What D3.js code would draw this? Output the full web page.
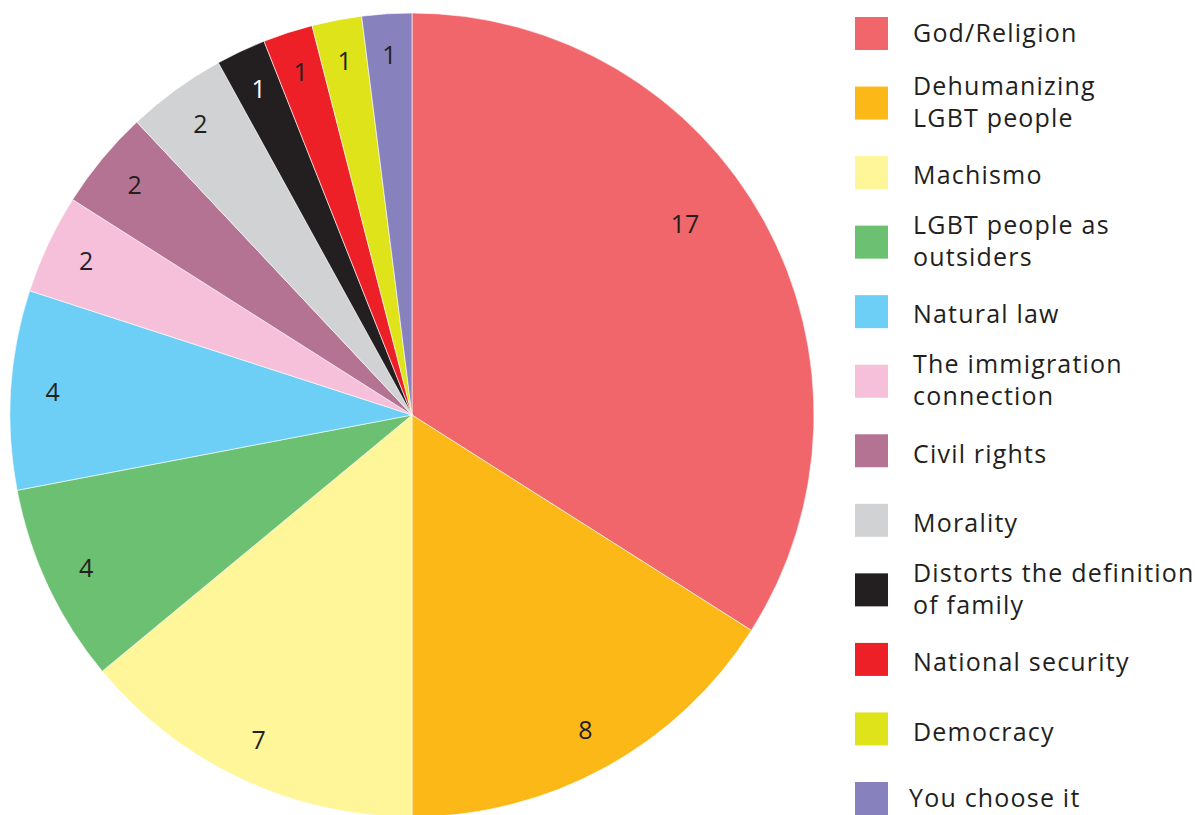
<!DOCTYPE html>
<html>
<head>
<meta charset="utf-8">
<script src="https://cdn.jsdelivr.net/npm/d3@7"></script>
<style>
  body { margin: 0; background: #fff; }
  svg { display: block; }
  text { font-family: "Open Sans", "Noto Sans", sans-serif; fill: #231f20; }
</style>
</head>
<body>
<div id="chart-container"></div>
<script>
const width = 1203;
const height = 815;

// data
const categories = ["God/Religion", "Dehumanizing LGBT people", "Machismo", "LGBT people as outsiders",
    "Natural law", "The immigration connection", "Civil rights", "Morality",
    "Distorts the definition of family", "National security", "Democracy", "You choose it"];
const legendLines = [["God/Religion"], ["Dehumanizing", "LGBT people"], ["Machismo"], ["LGBT people as", "outsiders"],
    ["Natural law"], ["The immigration", "connection"], ["Civil rights"], ["Morality"],
    ["Distorts the definition", "of family"], ["National security"], ["Democracy"], ["You choose it"]];
const values = [17, 8, 7, 4, 4, 2, 2, 2, 1, 1, 1, 1];
const colors = ["#f0666b", "#fbb817", "#fff69a", "#6bc072", "#6dcff6", "#f6c0da",
    "#b57394", "#d1d2d4", "#231f20", "#ed1f27", "#dfe31a", "#8782bd"];

const svg = d3.select("div#chart-container").append("svg")
    .attr("width", width)
    .attr("height", height);

const cx = 412, cy = 415, radius = 402;

const pie = d3.pie().sort(null).value(d => d.value);
const data = categories.map((c, i) => ({ name: c, value: values[i], color: colors[i] }));
const arcs = pie(data);

const arc = d3.arc().innerRadius(0).outerRadius(radius);
// labels sit close to the rim; the big slice gets its label pulled inwards a bit
const labelArc = d3.arc().innerRadius(325).outerRadius(395);
const bigLabelArc = d3.arc().innerRadius(290).outerRadius(376);

const g = svg.append("g").attr("transform", "translate(" + cx + "," + cy + ")");

g.selectAll("path")
    .data(arcs)
    .enter()
    .append("path")
    .attr("d", arc)
    .attr("fill", d => d.data.color)
    .attr("stroke", "#fff")
    .attr("stroke-width", 0.6);

g.selectAll("text.val")
    .data(arcs)
    .enter()
    .append("text")
    .attr("class", "val")
    .attr("transform", d => {
        const c = d.data.value > 10
            ? bigLabelArc.centroid({ startAngle: d.startAngle, endAngle: d.endAngle * 0.9 })
            : labelArc.centroid(d);
        return "translate(" + c + ")";
    })
    .attr("text-anchor", "middle")
    .attr("dy", "0.35em")
    .style("font-size", "25px")
    .style("fill", d => d.data.color === "#231f20" ? "#fff" : "#231f20")
    .text(d => d.data.value);

// legend
const legendY = d3.scalePoint().domain(categories).range([33.5, 798.5]);

const legend = svg.append("g").attr("class", "legend");
const item = legend.selectAll("g")
    .data(data)
    .enter()
    .append("g")
    .attr("transform", d => "translate(855," + legendY(d.name) + ")");

item.append("rect")
    .attr("x", 0)
    .attr("y", -16.5)
    .attr("width", 33)
    .attr("height", 33)
    .attr("fill", d => d.color);

const last = categories.length - 1;
item.each(function (d, i) {
    const lines = legendLines[i];
    const t = d3.select(this).append("text")
        .style("font-size", "25px")
        .style("letter-spacing", "1.2px");
    lines.forEach((l, j) => {
        t.append("tspan")
            .attr("x", i === last ? 54 : 58)
            .attr("y", lines.length > 1 ? (j - 0.5) * 32 - 1 : (i === 0 || i === last ? 0 : 3))
            .attr("dy", "0.35em")
            .text(l);
    });
});
</script>
</body>
</html>
